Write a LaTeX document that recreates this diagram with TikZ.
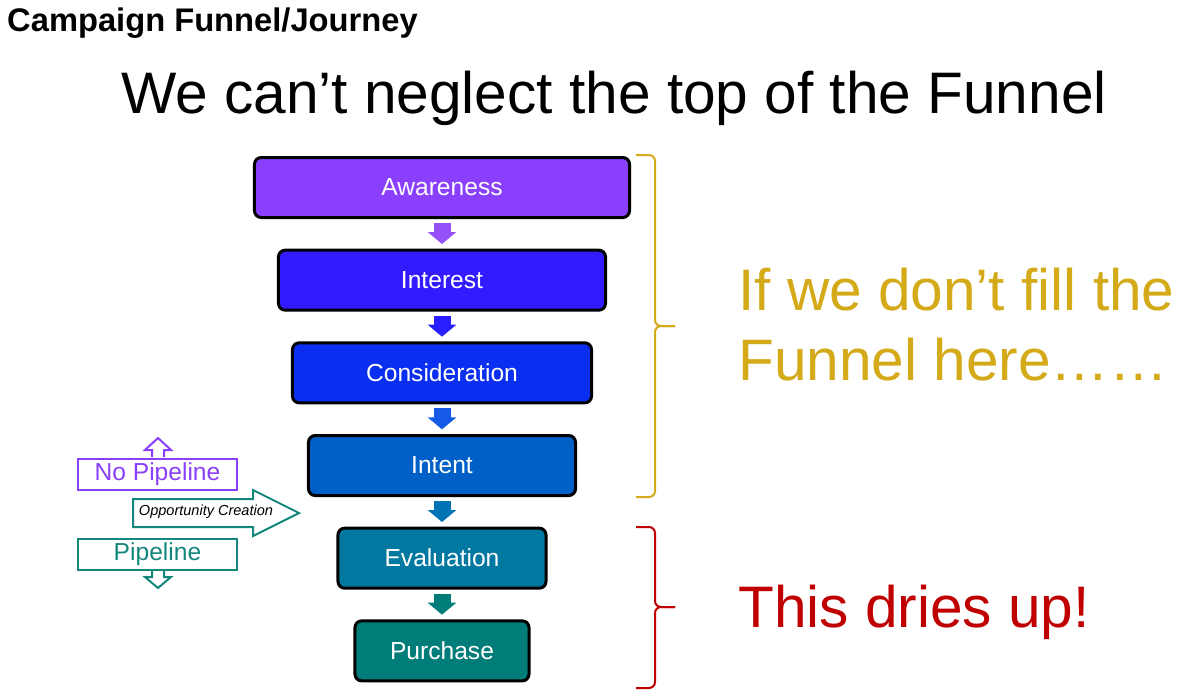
\documentclass[tikz,border=0pt]{standalone}
\usepackage{fontspec}
\setmainfont{Liberation Sans}
\usepackage{tikz}
\usetikzlibrary{positioning, arrows.meta}

\definecolor{aware-col}{RGB}{138,63,252}
\definecolor{interest-col}{RGB}{51,27,255}
\definecolor{consid-col}{RGB}{10,47,240}
\definecolor{intent-col}{RGB}{0,96,200}
\definecolor{eval-col}{RGB}{0,120,160}
\definecolor{purch-col}{RGB}{0,125,121}
\definecolor{arrow-a}{RGB}{150,80,250}
\definecolor{arrow-b}{RGB}{40,30,255}
\definecolor{arrow-c}{RGB}{20,90,230}
\definecolor{arrow-d}{RGB}{0,115,180}
\definecolor{arrow-e}{RGB}{0,125,120}
\definecolor{fill-gold}{RGB}{212,170,25}
\definecolor{dry-red}{RGB}{192,0,0}
\definecolor{pipe-teal}{RGB}{20,135,125}

\begin{document}
\begin{tikzpicture}[
    x=0.03cm, y=-0.03cm,
    node distance=0.89cm,
    stage/.style={rectangle, draw=black, line width=0.09cm, rounded corners=0.2cm, minimum height=1.8cm, text=white, font=\fontsize{21}{25}\selectfont},
    stagearrow/.style={line width=0.51cm, shorten <=0.12cm, shorten >=0.14cm, -{Triangle[width=0.84cm, length=0.36cm]}},
    pipebox/.style={rectangle, draw, line width=0.06cm, minimum width=4.77cm, minimum height=0.93cm, font=\fontsize{21}{25}\selectfont},
    outline/.style={line width=0.06cm, line join=miter},
    bracket/.style={line width=0.06cm, rounded corners=0.18cm},
    bigtext/.style={font=\fontsize{50}{59.5}\selectfont, anchor=base west, inner sep=0pt}
]
\fill[white] (0,0) rectangle (1194,694);
\useasboundingbox (0,0) rectangle (1194,694);

% titles
\node[font=\fontsize{27.9}{32}\selectfont\bfseries, anchor=base west, inner sep=0pt] (heading) at (7,31) {Campaign Funnel/Journey};
\node[font=\fontsize{50}{60}\selectfont, anchor=base, inner sep=0pt] (claim) at (614,113) {We can’t neglect the top of the Funnel};

% funnel stages
\node[stage, fill=aware-col, minimum width=11.25cm] (aware) at (442,187.5) {Awareness};
\node[stage, fill=interest-col, minimum width=9.81cm, below=of aware] (interest) {Interest};
\node[stage, fill=consid-col, minimum width=8.97cm, below=of interest] (consid) {Consideration};
\node[stage, fill=intent-col, minimum width=8.01cm, below=of consid] (intent) {Intent};
\node[stage, fill=eval-col, minimum width=6.24cm, below=of intent] (eval) {Evaluation};
\node[stage, fill=purch-col, minimum width=5.22cm, below=of eval] (purch) {Purchase};

\foreach \from/\to/\col in {aware/interest/arrow-a, interest/consid/arrow-b, consid/intent/arrow-c, intent/eval/arrow-d, eval/purch/arrow-e}
    \draw[stagearrow, draw=\col, fill=\col] (\from) -- (\to);

% pipeline markers
\node[pipebox, draw=aware-col, text=aware-col] (nopipe) at (157.5,474) {No Pipeline};
\draw[outline, draw=aware-col] (152,457) -- (152,450) -- (145,450) -- (158,438) -- (171,450) -- (164,450) -- (164,457);
\node[pipebox, draw=pipe-teal, text=pipe-teal] (pipe) at (157.5,554.5) {Pipeline};
\draw[outline, draw=pipe-teal] (152,571) -- (152,577) -- (145,577) -- (158,588) -- (171,577) -- (164,577) -- (164,571);
\draw[outline, draw=pipe-teal] (133,499) -- (253,499) -- (253,490) -- (299,513) -- (253,536) -- (253,527) -- (133,527) -- cycle;
\node[font=\fontsize{12.4}{14}\selectfont\itshape, inner sep=0pt] (oppty) at (206,512) {Opportunity Creation};

% braces and remarks
\draw[bracket, draw=fill-gold] (636,155) -- (655,155) -- (655,326) -- (675,326);
\draw[bracket, draw=fill-gold] (675,326) -- (655,326) -- (655,497) -- (636,497);
\draw[bracket, draw=dry-red] (636,527) -- (655,527) -- (655,607) -- (675,607);
\draw[bracket, draw=dry-red] (675,607) -- (655,607) -- (655,688) -- (636,688);

\node[bigtext, text=fill-gold] (fillA) at (738,310) {If we don’t fill the};
\node[bigtext, text=fill-gold] (fillB) at (738,380) {Funnel here……};
\node[bigtext, text=dry-red] (dries) at (738,627) {This dries up!};

\end{tikzpicture}
\end{document}
